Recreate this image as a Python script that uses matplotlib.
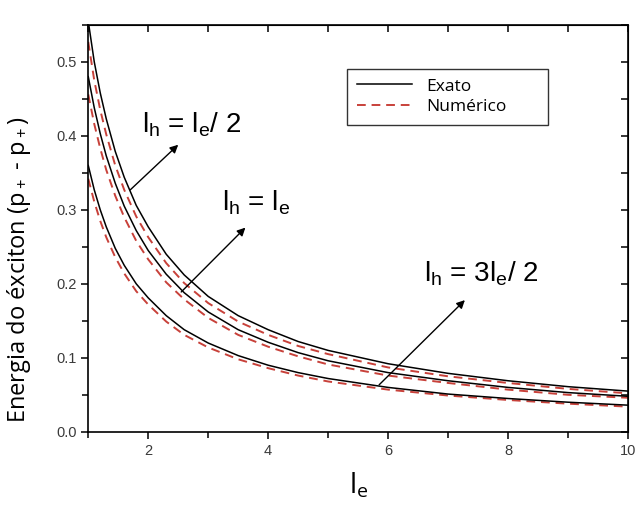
import numpy as np
import matplotlib
matplotlib.use('Agg')
from matplotlib import pyplot as plt
from matplotlib.ticker import MultipleLocator

plt.rcParams['font.family'] = ['Liberation Sans', 'DejaVu Sans']
plt.rcParams['mathtext.default'] = 'regular'

# l_e values where the energies were sampled
le = [1, 1.1, 1.2, 1.3, 1.45, 1.6, 1.8, 2, 2.3, 2.6, 3, 3.5, 4, 4.5, 5, 6, 7, 8, 9, 10]

# l_h = l_e/2
exato_1 = [0.555, 0.500, 0.458, 0.423, 0.379, 0.344, 0.306, 0.277, 0.240, 0.212,
           0.183, 0.157, 0.138, 0.122, 0.110, 0.092, 0.079, 0.069, 0.061, 0.055]
numerico_1 = [0.527, 0.475, 0.435, 0.402, 0.360, 0.327, 0.291, 0.263, 0.228, 0.201,
              0.174, 0.149, 0.131, 0.116, 0.105, 0.087, 0.075, 0.066, 0.058, 0.052]
# l_h = l_e
exato_2 = [0.480, 0.438, 0.403, 0.373, 0.336, 0.305, 0.272, 0.245, 0.213, 0.188,
           0.162, 0.138, 0.121, 0.107, 0.096, 0.080, 0.069, 0.060, 0.053, 0.048]
numerico_2 = [0.456, 0.416, 0.383, 0.354, 0.319, 0.290, 0.258, 0.233, 0.202, 0.179,
              0.154, 0.131, 0.115, 0.102, 0.091, 0.076, 0.066, 0.057, 0.050, 0.046]
# l_h = 3 l_e/2
exato_3 = [0.360, 0.327, 0.300, 0.277, 0.248, 0.225, 0.200, 0.181, 0.157, 0.138,
           0.120, 0.103, 0.090, 0.080, 0.072, 0.060, 0.051, 0.045, 0.040, 0.036]
numerico_3 = [0.342, 0.311, 0.285, 0.263, 0.236, 0.214, 0.190, 0.172, 0.149, 0.131,
              0.114, 0.098, 0.086, 0.076, 0.068, 0.057, 0.049, 0.043, 0.038, 0.034]

red = '#c8413a'

fig = plt.figure(figsize=(6.35, 5.08), dpi=100)
ax = fig.add_axes([0.139, 0.150, 0.850, 0.801])

for i, (ex, nu) in enumerate([(exato_1, numerico_1), (exato_2, numerico_2), (exato_3, numerico_3)]):
    ax.plot(le, nu, color=red, lw=1.4, ls=(0, (4.5, 3)), label='Numérico' if i == 0 else None)
    ax.plot(le, ex, color='black', lw=1.1, label='Exato' if i == 0 else None)

ax.set_xlim(1, 10)
ax.set_ylim(0, 0.55)
ax.xaxis.set_major_locator(MultipleLocator(2))
ax.xaxis.set_minor_locator(MultipleLocator(1))
ax.yaxis.set_major_locator(MultipleLocator(0.1))
ax.yaxis.set_minor_locator(MultipleLocator(0.05))
ax.yaxis.set_major_formatter(plt.FormatStrFormatter('%.1f'))
ax.tick_params(which='both', direction='out', width=1.1, labelsize=10.5,
               labelcolor='#3a3a3a', top=False, right=False)
ax.tick_params(which='major', length=5)
ax.tick_params(which='minor', length=4)
for s in ax.spines.values():
    s.set_linewidth(1.2)

# inward ticks on the top and right edges
top = ax.secondary_xaxis('top')
top.xaxis.set_major_locator(MultipleLocator(1))
top.tick_params(direction='in', length=5, width=1.1, labeltop=False)
right = ax.secondary_yaxis('right')
right.yaxis.set_major_locator(MultipleLocator(0.05))
right.tick_params(direction='in', length=5, width=1.1, labelright=False)

ax.set_xlabel('l$_e$', fontsize=20, family=['Open Sans', 'DejaVu Sans'], labelpad=10)
ax.set_ylabel('Energia do éxciton (p$_+$ - p$_+$)', fontsize=17,
              family=['Open Sans', 'DejaVu Sans'])
ax.yaxis.set_label_coords(-0.102, 0.40)

ann = dict(arrowprops=dict(arrowstyle='-|>', color='black', lw=1.0, mutation_scale=12,
                           shrinkA=0, shrinkB=0))
ax.annotate('', xy=(2.50, 0.388), xytext=(1.70, 0.327), **ann)
ax.annotate('', xy=(3.62, 0.276), xytext=(2.55, 0.189), **ann)
ax.annotate('', xy=(7.28, 0.178), xytext=(5.85, 0.0635), **ann)
ax.text(2.72, 0.415, 'l$_h$ = l$_e$/ 2', fontsize=20, ha='center', va='center')
ax.text(3.80, 0.310, 'l$_h$ = l$_e$', fontsize=20, ha='center', va='center')
ax.text(7.55, 0.213, 'l$_h$ = 3l$_e$/ 2', fontsize=20, ha='center', va='center')

handles, labels = ax.get_legend_handles_labels()
leg = ax.legend(handles[::-1], labels[::-1], loc='upper left',
                bbox_to_anchor=(0.480, 0.752, 0.372, 0.140), mode='expand',
                prop=dict(family=['Open Sans', 'DejaVu Sans'], size=12.5),
                handlelength=3.2, handletextpad=0.8, fancybox=False, framealpha=1,
                edgecolor='#333333', borderpad=0.55, labelspacing=0.25, borderaxespad=0)
leg.get_frame().set_linewidth(1.0)

fig.savefig('out.png', dpi=100)
